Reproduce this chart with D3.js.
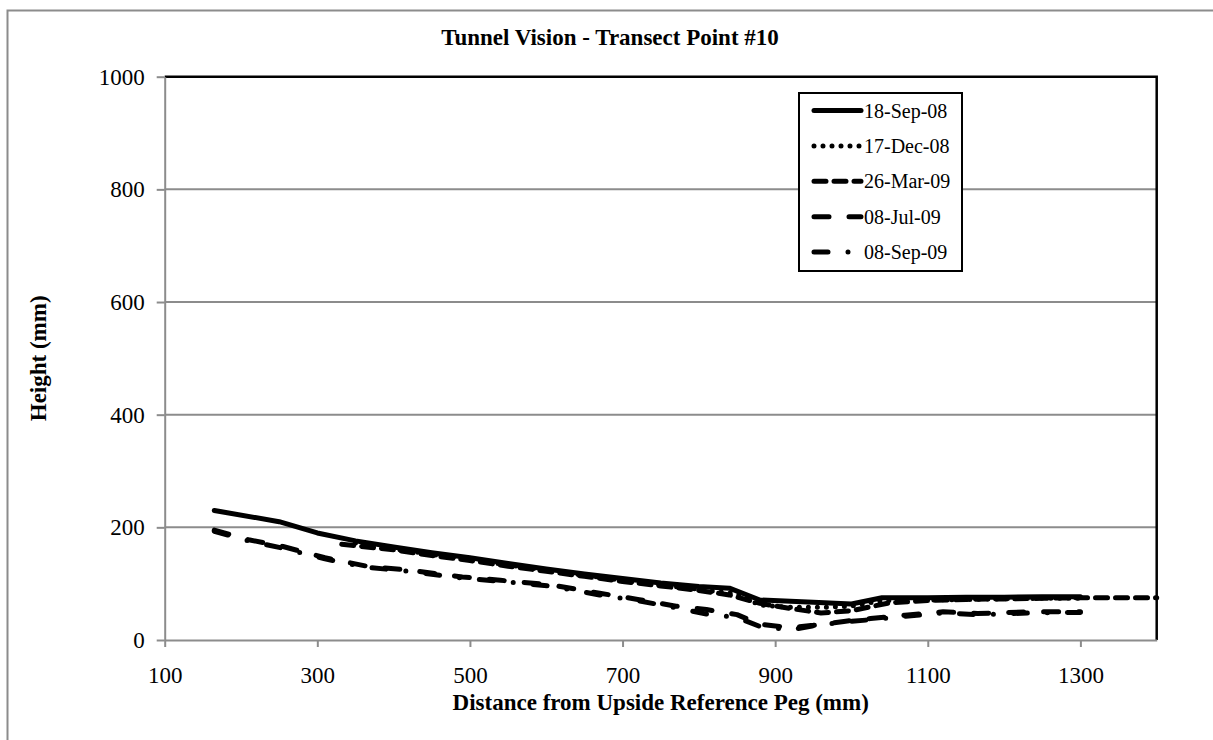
<!DOCTYPE html>
<html>
<head>
<meta charset="utf-8">
<script src="https://cdn.jsdelivr.net/npm/d3@7"></script>
<style>
  body { margin: 0; background: #fff; overflow: hidden; }
  svg { display: block; font-family: "Liberation Serif", "Times New Roman", serif; }
</style>
</head>
<body>
<svg id="chart" width="1213" height="740"></svg>
<script>
const xTicks = [100, 300, 500, 700, 900, 1100, 1300];
const yTicks = [0, 200, 400, 600, 800, 1000];

const seriesNames = ["18-Sep-08", "17-Dec-08", "26-Mar-09", "08-Jul-09", "08-Sep-09"];

const sep08X = [165, 250, 300, 350, 400, 450, 500, 550, 600, 650, 700, 750, 800, 840, 880, 950, 1000, 1040, 1100, 1150, 1200, 1250, 1300];
const sep08Y = [230, 210, 190, 176, 165, 155, 146, 136, 126, 117, 109, 101, 95, 92, 71, 67, 64, 75, 75, 76, 76, 77, 77];

const dec08X = [350, 400, 450, 500, 550, 600, 650, 700, 750, 800, 850, 880, 920, 960, 1000, 1040, 1100, 1150, 1200, 1250, 1300];
const dec08Y = [172, 162, 152, 143, 133, 124, 115, 106, 98, 90, 82, 62, 58, 58, 60, 70, 71, 72, 73, 74, 74];

const mar09X = [332, 400, 450, 500, 550, 600, 650, 700, 750, 800, 840, 880, 920, 960, 1000, 1050, 1100, 1150, 1200, 1250, 1300, 1350, 1400];
const mar09Y = [170, 160, 150, 141, 131, 122, 113, 104, 96, 88, 80, 65, 56, 48, 52, 66, 70, 72, 73, 74, 75, 75, 75];

const jul09X = [165, 210, 255, 310, 365, 420, 490, 540, 605, 670, 720, 770, 810, 850, 880, 920, 950, 990, 1025, 1070, 1120, 1165, 1235, 1300];
const jul09Y = [195, 178, 166, 146, 131, 124, 112, 106, 98, 83, 72, 60, 54, 45, 28, 22, 26, 33, 38, 44, 50, 47, 50, 50];

const sep09X = [165, 210, 255, 310, 365, 420, 490, 540, 605, 670, 720, 770, 810, 850, 880, 920, 950, 990, 1025, 1070, 1120, 1165, 1235, 1300];
const sep09Y = [193, 176, 163, 144, 129, 122, 110, 104, 96, 80, 70, 57, 46, 40, 24, 18, 25, 32, 36, 42, 48, 45, 48, 49];

// line styles per series (legend order)
const dashes = [null, "0,9", "12,8", "15,20", "14,20,0,20"];
const widths = [5, 5, 5, 5, 5];

function buildSeries() {
  const xs = [sep08X, dec08X, mar09X, jul09X, sep09X];
  const ys = [sep08Y, dec08Y, mar09Y, jul09Y, sep09Y];
  return seriesNames.map((name, i) => ({
    name: name,
    dash: dashes[i],
    width: widths[i],
    values: xs[i].map((d, j) => ({ x: d, y: ys[i][j] })),
  }));
}

function drawChart(svg, series, dimensions) {
  const margins = dimensions.margins;
  const grey = "#8c8c8c";

  const x = d3
    .scaleLinear()
    .domain([100, 1400])
    .range([margins.left, dimensions.width - margins.right]);

  const y = d3
    .scaleLinear()
    .domain([0, 1000])
    .range([dimensions.height - margins.bottom, margins.top]);

  // outer chart border (only left and top fall inside the picture)
  svg
    .append("rect")
    .attr("x", 7.5)
    .attr("y", 10.5)
    .attr("width", 1260)
    .attr("height", 800)
    .attr("fill", "none")
    .attr("stroke", grey)
    .attr("stroke-width", 2);

  // title
  svg
    .append("text")
    .attr("x", 610)
    .attr("y", 45)
    .attr("text-anchor", "middle")
    .attr("font-weight", "bold")
    .attr("font-size", 23)
    .text("Tunnel Vision - Transect Point #10");

  // gridlines
  svg
    .append("g")
    .selectAll("line")
    .data(yTicks.filter((d) => d > 0 && d < 1000))
    .join("line")
    .attr("x1", x.range()[0])
    .attr("x2", x.range()[1])
    .attr("y1", (d) => y(d))
    .attr("y2", (d) => y(d))
    .attr("stroke", grey)
    .attr("stroke-width", 2);

  // plot border top / right
  svg
    .append("path")
    .attr("d", `M${x.range()[0]},${y(1000)}H${x.range()[1]}V${y(0)}`)
    .attr("fill", "none")
    .attr("stroke", "#000")
    .attr("stroke-width", 2.5);

  // x axis
  const xAxisNode = svg
    .append("g")
    .attr("transform", `translate(0, ${y(0)})`)
    .call(
      d3
        .axisBottom(x)
        .tickValues(xTicks)
        .tickFormat(d3.format("d"))
        .tickSize(7)
        .tickSizeOuter(0)
        .tickPadding(20)
    );
  xAxisNode.attr("font-size", 23).attr("font-family", null);

  // y axis
  const yAxisNode = svg
    .append("g")
    .attr("transform", `translate(${x(100)}, 0)`)
    .call(
      d3
        .axisLeft(y)
        .tickValues(yTicks)
        .tickFormat(d3.format("d"))
        .tickSize(8)
        .tickSizeOuter(0)
        .tickPadding(12)
    );
  yAxisNode.attr("font-size", 23).attr("font-family", null);

  [xAxisNode, yAxisNode].forEach((node) => {
    node.select(".domain").attr("stroke", grey).attr("stroke-width", 2);
    node.selectAll(".tick line").attr("stroke", grey).attr("stroke-width", 2);
    node.selectAll(".tick text").attr("fill", "#000");
  });

  // axis titles
  svg
    .append("text")
    .attr("x", (x.range()[0] + x.range()[1]) / 2)
    .attr("y", 710)
    .attr("text-anchor", "middle")
    .attr("font-weight", "bold")
    .attr("font-size", 23)
    .text("Distance from Upside Reference Peg (mm)");

  svg
    .append("text")
    .attr("transform", `translate(46, ${(y(0) + y(1000)) / 2}) rotate(-90)`)
    .attr("text-anchor", "middle")
    .attr("font-weight", "bold")
    .attr("font-size", 23)
    .text("Height (mm)");

  // lines
  const line = d3
    .line()
    .x((d) => x(d.x))
    .y((d) => y(d.y));

  svg
    .append("g")
    .selectAll("path")
    .data(series)
    .join("path")
    .attr("d", (d) => line(d.values))
    .attr("fill", "none")
    .attr("stroke", "#000")
    .attr("stroke-width", (d) => d.width)
    .attr("stroke-linecap", "round")
    .attr("stroke-linejoin", "round")
    .attr("stroke-dasharray", (d) => d.dash);

  // legend
  const legend = svg.append("g").attr("transform", "translate(799, 93)");
  legend
    .append("rect")
    .attr("width", 163)
    .attr("height", 178)
    .attr("fill", "#fff")
    .attr("stroke", "#000")
    .attr("stroke-width", 2);

  const items = legend
    .selectAll("g")
    .data(series)
    .join("g")
    .attr("transform", (d, i) => `translate(0, ${17.5 + i * 35.4})`);

  items
    .append("line")
    .attr("x1", 15)
    .attr("x2", 62)
    .attr("stroke", "#000")
    .attr("stroke-width", (d) => d.width)
    .attr("stroke-linecap", "round")
    .attr("stroke-dasharray", (d) => d.dash);

  items
    .append("text")
    .attr("x", 65)
    .attr("y", 7)
    .attr("font-size", 20)
    .text((d) => d.name);
}

const svg = d3.select("#chart");
const dimensions = {
  width: 1213,
  height: 740,
  margins: { left: 164.7, right: 56.3, top: 76.7, bottom: 100 },
};
drawChart(svg, buildSeries(), dimensions);
</script>
</body>
</html>
